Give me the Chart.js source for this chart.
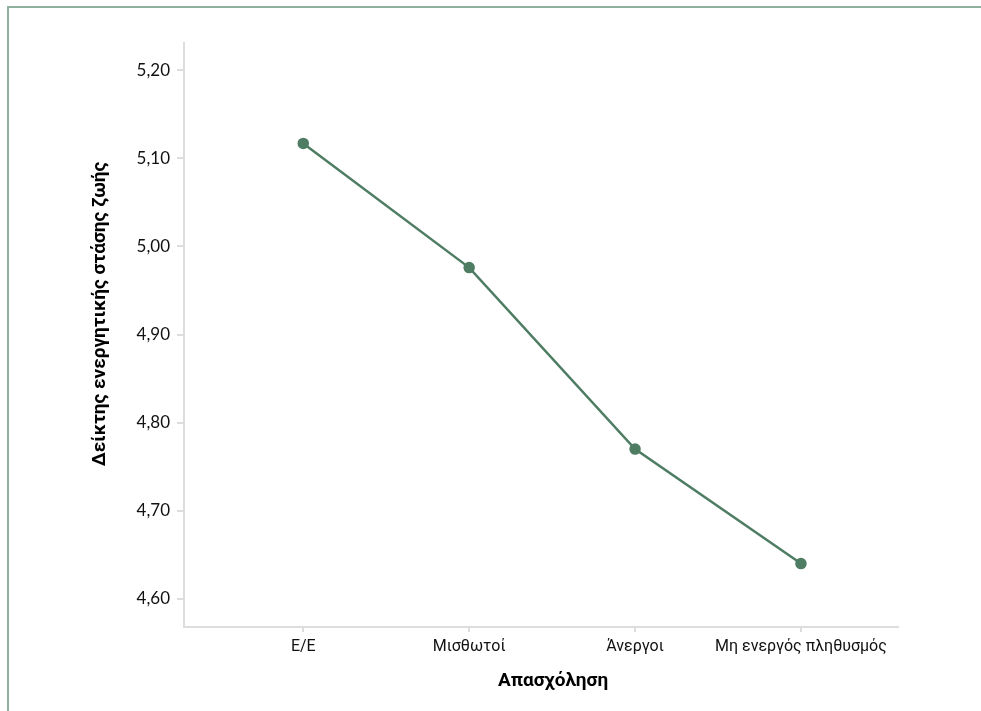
<!DOCTYPE html>
<html lang="el">
<head>
<meta charset="utf-8">
<title>Δείκτης ενεργητικής στάσης ζωής</title>
<script src="https://cdn.jsdelivr.net/npm/chart.js@4.4.1/dist/chart.umd.min.js"></script>
<style>
    html, body {
        margin: 0;
        padding: 0;
        background: #ffffff;
        overflow: hidden;
    }
    .frame {
        position: absolute;
        left: 7px;
        top: 6px;
        width: 1100px;
        height: 900px;
        border: 2px solid #8fb09f;
    }
    .chart-box {
        position: absolute;
        left: 0;
        top: 0;
        width: 981px;
        height: 711px;
    }
</style>
</head>
<body>
<div class="frame"></div>
<div class="chart-box">
    <canvas id="lifeChart"></canvas>
</div>
<script>
// Data
const categories = ['Ε/Ε', 'Μισθωτοί', 'Άνεργοι', 'Μη ενεργός πληθυσμός'];
const indexValues = [5.117, 4.976, 4.770, 4.640];
const yTicks = [4.6, 4.7, 4.8, 4.9, 5.0, 5.1, 5.2];

const xTitle = 'Απασχόληση';
const yTitle = 'Δείκτης ενεργητικής στάσης ζωής';

const lineColor = '#4e7d63';
const axisColor = '#dddddd';
const numberFont = 'Lato, sans-serif';
const textFont = 'Roboto, sans-serif';

// Axis titles drawn by hand so they sit where the original puts them
const axisTitles = {
    id: 'axisTitles',
    afterDraw(chart) {
        const ctx = chart.ctx;
        ctx.save();
        ctx.fillStyle = '#000000';
        ctx.font = 'bold 19px ' + textFont;
        ctx.textAlign = 'center';
        ctx.textBaseline = 'middle';
        ctx.fillText(xTitle, 553, 681);
        ctx.translate(100, 314);
        ctx.rotate(-Math.PI / 2);
        ctx.fillText(yTitle, 0, 0);
        ctx.restore();
    }
};

document.addEventListener('DOMContentLoaded', function() {
    const ctx = document.getElementById('lifeChart').getContext('2d');
    new Chart(ctx, {
        type: 'line',
        data: {
            datasets: [{
                data: indexValues.map((v, i) => ({ x: i, y: v })),
                borderColor: lineColor,
                backgroundColor: lineColor,
                borderWidth: 2.5,
                pointRadius: 4.5,
                pointHoverRadius: 4.5,
                tension: 0
            }]
        },
        options: {
            responsive: true,
            maintainAspectRatio: false,
            animation: false,
            layout: {
                padding: { left: 80, top: 43, right: 83, bottom: 0 }
            },
            plugins: {
                legend: { display: false },
                tooltip: { enabled: false }
            },
            scales: {
                x: {
                    type: 'linear',
                    min: -0.719,
                    max: 3.585,
                    afterBuildTicks: axis => {
                        axis.ticks = categories.map((c, i) => ({ value: i }));
                    },
                    afterFit: axis => { axis.height = 84; },
                    grid: {
                        display: true,
                        drawOnChartArea: false,
                        color: axisColor,
                        lineWidth: 2,
                        tickLength: 5
                    },
                    border: { color: axisColor, width: 2 },
                    ticks: {
                        color: '#111111',
                        padding: 5,
                        maxRotation: 0,
                        autoSkip: false,
                        font: { family: textFont, size: 16 },
                        callback: value => categories[value]
                    }
                },
                y: {
                    min: 4.568,
                    max: 5.231,
                    afterBuildTicks: axis => {
                        axis.ticks = yTicks.map(v => ({ value: v }));
                    },
                    afterFit: axis => { axis.width = 104; },
                    grid: {
                        display: true,
                        drawOnChartArea: false,
                        color: axisColor,
                        lineWidth: 2,
                        tickLength: 7
                    },
                    border: { color: axisColor, width: 2 },
                    ticks: {
                        color: '#111111',
                        padding: 7,
                        font: { family: numberFont, size: 17 },
                        callback: value => value.toFixed(2).replace('.', ',')
                    }
                }
            }
        },
        plugins: [axisTitles]
    });
});
</script>
</body>
</html>
